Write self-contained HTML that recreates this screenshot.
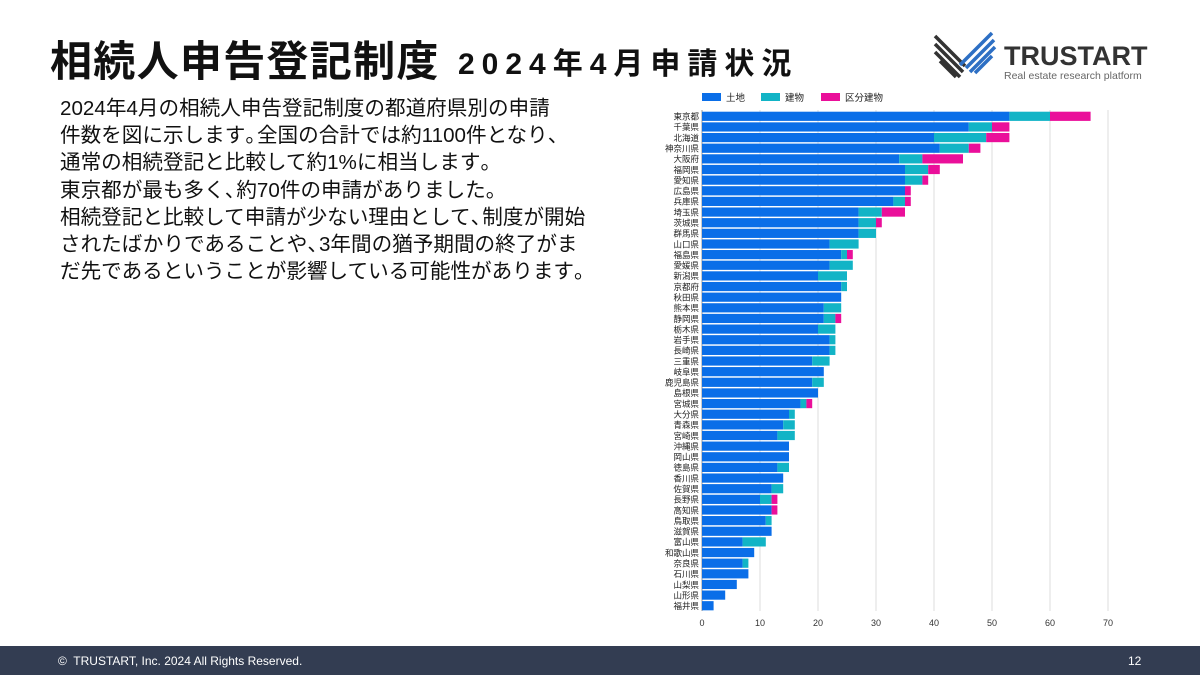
<!DOCTYPE html>
<html><head><meta charset="utf-8"><style>
body{margin:0;width:1200px;height:675px;position:relative;background:#fff;font-family:"Liberation Sans","Noto Sans CJK JP",sans-serif;overflow:hidden;color:#111}
.t1{position:absolute;left:50px;top:28px;font-size:42px;font-weight:bold;letter-spacing:1.3px;white-space:nowrap}
.t2{position:absolute;left:458px;top:39px;font-size:30px;font-weight:bold;letter-spacing:7px;white-space:nowrap}
.para{position:absolute;left:60px;top:95px;font-size:20.6px;line-height:27.2px;white-space:nowrap}
.p{letter-spacing:-9px}
.foot{position:absolute;left:0;top:646px;width:1200px;height:29px;background:#333d52;color:#fff;font-size:12px}
</style></head><body>
<div class="t1">相続人申告登記制度</div>
<div class="t2">2024年4月申請状況</div>
<svg style="position:absolute;left:930px;top:30px" width="230" height="55">
<g stroke="#333" stroke-width="3.5"><line x1="5" y1="6" x2="35" y2="36"/><line x1="5" y1="14" x2="33" y2="42"/><line x1="5" y1="22" x2="30" y2="47"/><line x1="10" y1="31" x2="26" y2="47"/></g>
<g stroke="#2d6fc4" stroke-width="3.5"><line x1="62" y1="3" x2="30" y2="35"/><line x1="64" y1="10" x2="36" y2="38"/><line x1="65" y1="17" x2="40" y2="42"/><line x1="62" y1="26" x2="45" y2="43"/></g>
<text x="74" y="35" font-size="27" font-weight="bold" fill="#333" font-family="Liberation Sans">TRUSTART</text>
<text x="74" y="49" font-size="10.5" fill="#666" font-family="Liberation Sans">Real estate research platform</text>
</svg>
<div class="para">2024年4月の相続人申告登記制度の都道府県別の申請<br>件数を図に示します<span class="p">。</span>全国の合計では約1100件となり<span class="p">、</span><br>通常の相続登記と比較して約1%に相当します<span class="p">。</span><br>東京都が最も多く<span class="p">、</span>約70件の申請がありました<span class="p">。</span><br>相続登記と比較して申請が少ない理由として<span class="p">、</span>制度が開始<br>されたばかりであることや<span class="p">、</span>3年間の猶予期間の終了がま<br>だ先であるということが影響している可能性があります<span class="p">。</span></div>
<svg id="chart" style="position:absolute;left:0;top:0" width="1200" height="640"></svg>
<div class="foot"><span style="position:absolute;left:58px;top:8px">©&nbsp; TRUSTART, Inc. 2024 All Rights Reserved.</span><span style="position:absolute;left:1128px;top:8px">12</span></div>
<script>
const prefs=["東京都","千葉県","北海道","神奈川県","大阪府","福岡県","愛知県","広島県","兵庫県","埼玉県","茨城県","群馬県","山口県","福島県","愛媛県","新潟県","京都府","秋田県","熊本県","静岡県","栃木県","岩手県","長崎県","三重県","岐阜県","鹿児島県","島根県","宮城県","大分県","青森県","宮崎県","沖縄県","岡山県","徳島県","香川県","佐賀県","長野県","高知県","鳥取県","滋賀県","富山県","和歌山県","奈良県","石川県","山梨県","山形県","福井県"];
const land=[53,46,40,41,34,35,35,35,33,27,27,27,22,24,22,20,24,24,21,21,20,22,22,19,21,19,20,17,15,14,13,15,15,13,14,12,10,12,11,12,7,9,7,8,6,4,2];
const bldg=[7,4,9,5,4,4,3,0,2,4,3,3,5,1,4,5,1,0,3,2,3,1,1,3,0,2,0,1,1,2,3,0,0,2,0,2,2,0,1,0,4,0,1,0,0,0,0];
const unit=[7,3,4,2,7,2,1,1,1,4,1,0,0,1,0,0,0,0,0,1,0,0,0,0,0,0,0,1,0,0,0,0,0,0,0,0,1,1,0,0,0,0,0,0,0,0,0];
const ticks=[0,10,20,30,40,50,60,70];
const seriesNames=["土地","建物","区分建物"];
const colors=["#0a6ee8","#12b4c6","#ea0f9a"];
const svg=document.getElementById('chart');const NS="http://www.w3.org/2000/svg";
const x0=702,pxu=5.8,y0=116.3,step=10.64,bh=9.2;
const X=v=>x0+v*pxu, Y=i=>y0+i*step;
function mk(t,a){const e=document.createElementNS(NS,t);for(const k in a)e.setAttribute(k,a[k]);svg.appendChild(e);return e;}
ticks.forEach(t=>{const g=mk('line',{x1:X(t),x2:X(t),y1:110,y2:611,stroke:t===0?'#999':'#ddd','stroke-width':1});


const l=mk('text',{x:X(t),y:626,'font-size':9,'text-anchor':'middle',fill:'#333'});l.textContent=t;

});
const sets=[land,bldg,unit];
prefs.forEach((p,i)=>{let acc=0;
sets.forEach((s,k)=>{if(s[i]>0){const r=mk('rect',{x:X(acc),y:Y(i)-bh/2,width:s[i]*pxu,height:bh,fill:colors[k]});

}acc+=s[i];});
const l=mk('text',{x:699,y:Y(i)+3.3,'font-size':8.5,'text-anchor':'end',fill:'#222'});l.textContent=p;

});
const lx=[702,761,821];
seriesNames.forEach((n,k)=>{const r=mk('rect',{x:lx[k],y:93,width:19,height:8,fill:colors[k]});


const t=mk('text',{x:lx[k]+24,y:101,'font-size':9.5,fill:'#222'});t.textContent=n;

});
</script>
</body></html>
